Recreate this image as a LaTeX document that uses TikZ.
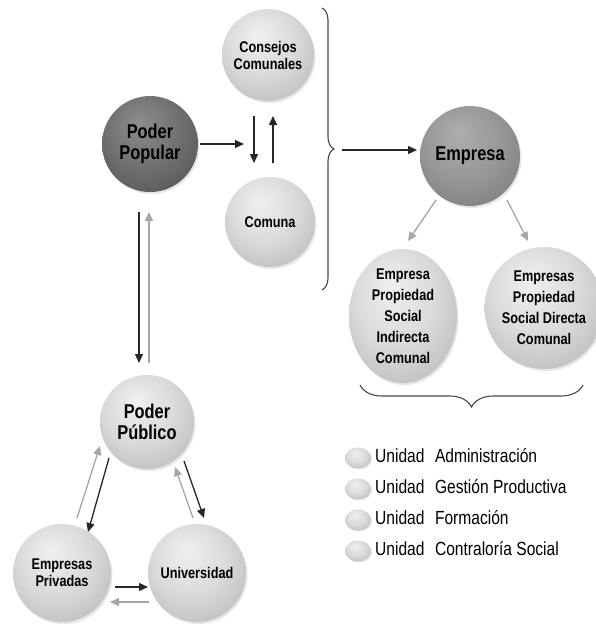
\documentclass[tikz,border=0pt]{standalone}
\usepackage{fontspec}
\setmainfont[FakeStretch=0.82]{Liberation Sans}
\usetikzlibrary{shapes.geometric,arrows.meta,decorations.pathreplacing,shadows}
\pgfdeclareradialshading{lightball}{\pgfpoint{-6bp}{12bp}}{color(0bp)=(black!6); color(18bp)=(black!14); color(34bp)=(black!26); color(46bp)=(black!40); color(50bp)=(black!50)}
\pgfdeclareradialshading{midball}{\pgfpoint{-6bp}{12bp}}{color(0bp)=(black!32); color(18bp)=(black!40); color(34bp)=(black!50); color(46bp)=(black!62); color(50bp)=(black!70)}
\pgfdeclareradialshading{darkball}{\pgfpoint{-6bp}{12bp}}{color(0bp)=(black!45); color(18bp)=(black!55); color(34bp)=(black!66); color(46bp)=(black!76); color(50bp)=(black!82)}
\begin{document}
\begin{tikzpicture}[x=1pt,y=-1pt,
  ballnode/.style={circle,shading=#1,draw=none,align=center,inner sep=0pt,
     drop shadow={opacity=0.2,shadow xshift=1.5pt,shadow yshift=-2pt}},
  ellnode/.style={ellipse,shading=#1,draw=none,align=center,inner sep=0pt,
     drop shadow={opacity=0.2,shadow xshift=1.5pt,shadow yshift=-2pt}},
  blk/.style={-{Triangle[length=9pt,width=8pt]},line width=1.3pt,black!85},
  gry/.style={-{Triangle[length=9pt,width=8pt]},line width=1.3pt,gray!70},
  legball/.style={ellipse,shading=lightball,minimum width=26pt,minimum height=21pt,inner sep=0pt,
     drop shadow={opacity=0.2,shadow xshift=1pt,shadow yshift=-1pt}},
  legtext/.style={anchor=west,font=\fontsize{19}{21}\selectfont,inner sep=0pt},
  bigtxt/.style={font=\fontsize{20}{21}\selectfont\bfseries},
  smalltxt/.style={font=\fontsize{15.5}{17}\selectfont\bfseries},
  elltxt/.style={font=\fontsize{15.5}{21}\selectfont\bfseries},
  brace/.style={line width=1.1pt,gray!55!black}
]
\useasboundingbox (0,0) rectangle (595,629);
% nodes
\node[ballnode=lightball,minimum size=92pt,smalltxt] (cc) at (268,55) {Consejos\\Comunales};
\node[ballnode=darkball,minimum size=96pt,bigtxt] (pp) at (150,144) {Poder\\Popular};
\node[ballnode=lightball,minimum size=90pt,smalltxt] (co) at (270,222) {Comuna};
\node[ballnode=midball,minimum size=100pt,bigtxt] (em) at (470,156) {Empresa};
\node[ellnode=lightball,minimum width=108pt,minimum height=126pt,elltxt] (ei) at (403,316) {Empresa\\Propiedad\\Social\\Indirecta\\Comunal};
\node[ellnode=lightball,minimum width=98pt,minimum height=122pt,elltxt] (ed) at (544,308) {Empresas\\Propiedad\\Social Directa\\Comunal};
\node[ballnode=lightball,minimum size=94pt,bigtxt] (pu) at (147,422) {Poder\\Público};
\node[ballnode=lightball,minimum size=98pt,smalltxt] (ep) at (62,573) {Empresas\\Privadas};
\node[ballnode=lightball,minimum size=98pt,smalltxt] (un) at (197,573) {Universidad};

% connectors
\coordinate (a1) at (200,144); \coordinate (a2) at (244,144);
\draw[blk] (a1) -- (a2);
\coordinate (d1) at (254,116); \coordinate (d2) at (254,163);
\draw[blk] (d1) -- (d2);
\coordinate (u1) at (273,163); \coordinate (u2) at (273,116);
\draw[blk] (u1) -- (u2);

% big brace
\draw[brace,decorate,decoration={brace,amplitude=12pt}] (322,8) -- (322,290);
\coordinate (bt) at (342,150); \coordinate (be) at (417,150);
\draw[blk] (bt) -- (be);

\coordinate (e1) at (436,200); \coordinate (e2) at (408,241);
\draw[gry] (e1) -- (e2);
\coordinate (f1) at (507,200); \coordinate (f2) at (528,241);
\draw[gry] (f1) -- (f2);

% bottom brace
\draw[brace,decorate,decoration={brace,amplitude=22pt,mirror}] (360,385) -- (583,385);

% vertical arrows
\coordinate (v1) at (139,212); \coordinate (v2) at (139,363);
\draw[blk] (v1) -- (v2);
\coordinate (w1) at (149,363); \coordinate (w2) at (149,212);
\draw[gry] (w1) -- (w2);

% triangle arrows
\coordinate (g1) at (77,518); \coordinate (g2) at (100,446);
\draw[gry] (g1) -- (g2);
\coordinate (h1) at (109,458); \coordinate (h2) at (88,532);
\draw[blk] (h1) -- (h2);
\coordinate (k1) at (184,461); \coordinate (k2) at (204,518);
\draw[blk] (k1) -- (k2);
\coordinate (m1) at (193,518); \coordinate (m2) at (175,467);
\draw[gry] (m1) -- (m2);
\coordinate (n1) at (115,587); \coordinate (n2) at (148,587);
\draw[blk] (n1) -- (n2);
\coordinate (o1) at (149,602); \coordinate (o2) at (110,602);
\draw[gry] (o1) -- (o2);

% legend
\foreach \yy/\txt [count=\i] in {456/Administración,487/Gestión Productiva,518/Formación,549/Contraloría Social}{
  \node[legball] (lb\i) at (358,\yy+2) {};
  \node[legtext] (lt\i) at (375,\yy) {Unidad\hspace{0.55em}\txt};
}
\end{tikzpicture}
\end{document}
